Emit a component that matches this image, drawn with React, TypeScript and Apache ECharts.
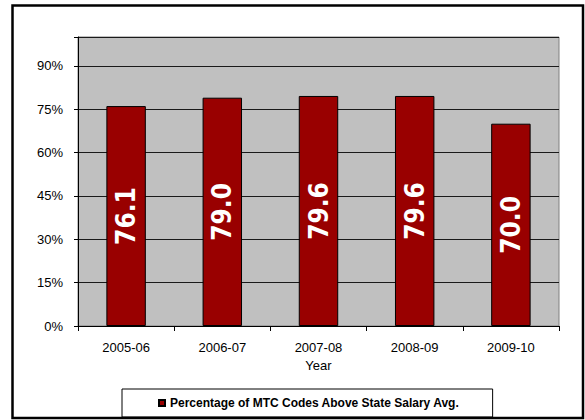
import React, { useEffect, useRef } from "react";
import * as echarts from "echarts";

const categories = ["2005-06", "2006-07", "2007-08", "2008-09", "2009-10"];
const values = [76.1, 79.0, 79.6, 79.6, 70.0];
const seriesName = "Percentage of MTC Codes Above State Salary Avg.";
const axisName = "Year";

export default function App() {
  const ref = useRef<HTMLDivElement>(null);
  useEffect(() => {
    if (!ref.current) return;
    const chart = echarts.init(ref.current, undefined, { renderer: "svg" });
    chart.setOption({
      animation: false,
      backgroundColor: "#ffffff",
      textStyle: { fontFamily: "Arial, 'Liberation Sans', sans-serif" },
      graphic: [
        {
          type: "rect",
          shape: { x: 12.5, y: 5.5, width: 570.5, height: 412.5 },
          style: { fill: "none", stroke: "#000", lineWidth: 2.5 },
          silent: true,
          z: 100,
        },
      ],
      grid: {
        left: 78,
        right: 26,
        top: 37,
        bottom: 94,
        show: true,
        backgroundColor: "#c0c0c0",
        borderColor: "#808080",
        borderWidth: 1,
      },
      legend: {
        left: 122,
        top: 389,
        data: [seriesName],
        icon: "rect",
        itemWidth: 6,
        itemHeight: 6,
        padding: [8, 33, 8, 36],
        borderColor: "#000",
        borderWidth: 1,
        textStyle: { fontSize: 12, fontWeight: "bold", color: "#000", fontFamily: "Arial, 'Liberation Sans', sans-serif" },
      },
      xAxis: {
        type: "category",
        data: categories,
        name: axisName,
        nameLocation: "middle",
        nameGap: 33,
        nameTextStyle: { fontSize: 13, color: "#000" },
        axisLine: { lineStyle: { color: "#000", width: 1 } },
        axisTick: { show: true, length: 5, lineStyle: { color: "#000" } },
        axisLabel: { fontSize: 13, color: "#000", margin: 15 },
        splitLine: { show: false },
      },
      yAxis: {
        type: "value",
        min: 0,
        max: 100,
        interval: 15,
        axisLine: { show: true, lineStyle: { color: "#000", width: 1 } },
        axisTick: { show: true, length: 4, lineStyle: { color: "#000" } },
        axisLabel: {
          fontSize: 13,
          color: "#000",
          margin: 15,
          formatter: (v: number) => (v % 15 === 0 && v <= 90 ? v + "%" : ""),
        },
        splitLine: { show: true, lineStyle: { color: "#1a1a1a", width: 1 } },
      },
      series: [
        {
          name: seriesName,
          type: "bar",
          data: values,
          barWidth: "41%",
          itemStyle: { color: "#990000", borderColor: "#000", borderWidth: 1 },
          label: {
            show: true,
            position: "inside",
            rotate: 90,
            color: "#fff",
            fontWeight: "bold",
            fontSize: 26,
            fontFamily: "'Liberation Sans Narrow', 'Arial Narrow', 'DejaVu Sans Condensed', sans-serif",
            formatter: (p: any) => Number(p.value).toFixed(1),
          },
        },
      ],
    });
    return () => chart.dispose();
  }, []);
  return (
    <div
      ref={ref}
      style={{ position: "absolute", left: 0, top: 0, width: 585, height: 420 }}
    />
  );
}
